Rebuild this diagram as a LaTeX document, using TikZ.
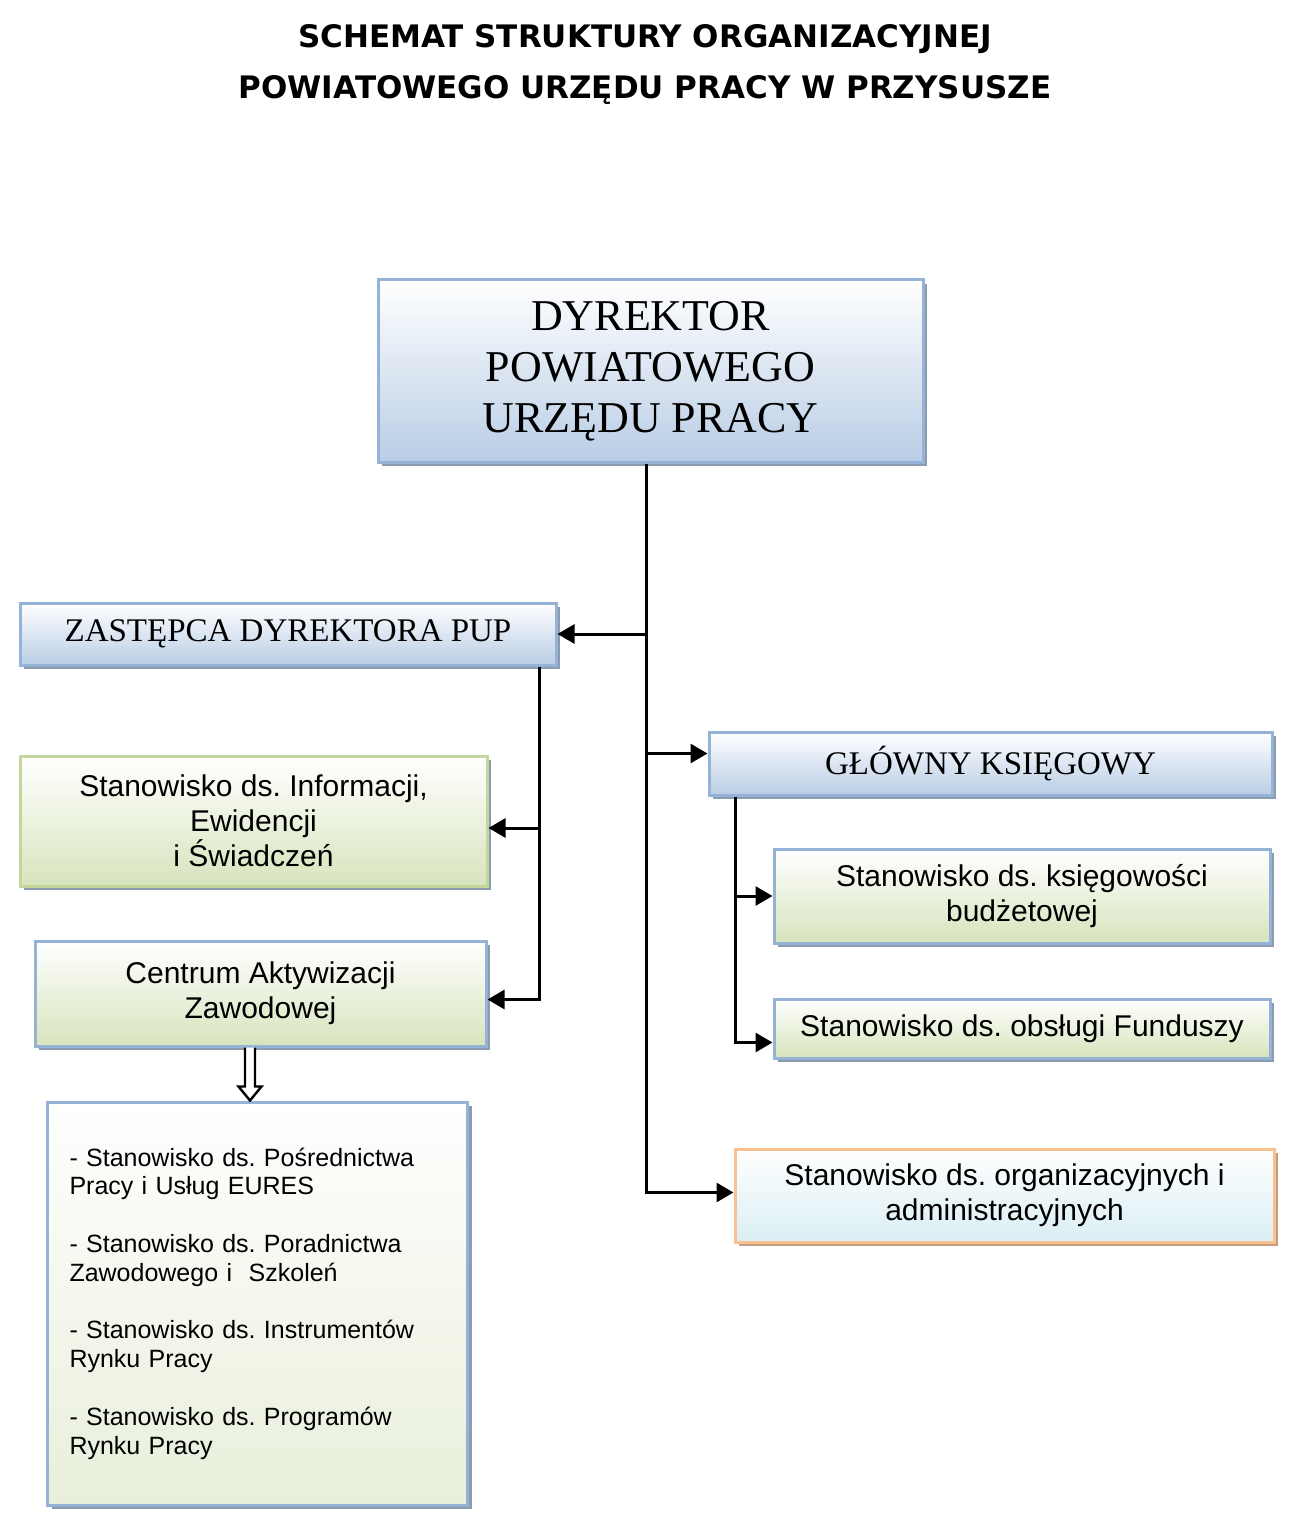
\documentclass[tikz,border=0pt]{standalone}
\usepackage{fontspec}
\setmainfont{Liberation Serif}
\setsansfont{Liberation Sans}
\newfontfamily\verd{DejaVu Sans}
\usetikzlibrary{arrows.meta,positioning,calc,shadows}
\definecolor{bluefill}{HTML}{B9CDE5}
\definecolor{blueline}{HTML}{95B3D7}
\definecolor{greenfill}{HTML}{D7E4BD}
\definecolor{greenline}{HTML}{C3D69B}
\definecolor{listfill}{HTML}{E8EFDA}
\definecolor{orgline}{HTML}{FAC090}
\definecolor{orgfill}{HTML}{DAEEF3}
\definecolor{shblue}{HTML}{8D9BAF}
\definecolor{shorg}{HTML}{C49C7E}
\frenchspacing
\tikzset{
  blk/.style={draw=blueline, line width=1.5pt, top color=white,
              bottom color=bluefill, align=center, inner sep=2pt,
              font=\sffamily\fontsize{15}{17.5}\selectfont,
              drop shadow={shadow xshift=2pt, shadow yshift=-2pt,
                           fill=shblue, opacity=1}},
  headb/.style={blk, font=\rmfamily\fontsize{16.5}{19}\selectfont},
  dirb/.style={blk, font=\rmfamily\fontsize{22}{25.5}\selectfont},
  greenb/.style={blk, draw=greenline, bottom color=greenfill},
  cazb/.style={blk, bottom color=greenfill},
  listb/.style={blk, bottom color=listfill, align=left,
                text width=188pt, inner xsep=11pt,
                font=\sffamily\fontsize{12.5}{14.4}\selectfont},
  orgb/.style={blk, draw=orgline, bottom color=orgfill,
               drop shadow={shadow xshift=2pt, shadow yshift=-2pt,
                            fill=shorg, opacity=1}},
  ln/.style={line width=1.5pt, draw=black},
  ar/.style={ln, -{Triangle[length=8.5pt,width=9.5pt]}},
  hol/.style={line width=1.2pt, draw=black, fill=white},
  ttl/.style={font=\verd\bfseries\fontsize{15.5}{25.5}\selectfont, align=center},
}
\begin{document}
\begin{tikzpicture}[x=0.5pt, y=-0.5pt]
\useasboundingbox (0,0) rectangle (1289,1519);

% ---- tytul ----
\node[ttl] (title) at (645,65) {SCHEMAT STRUKTURY ORGANIZACYJNEJ\\
  POWIATOWEGO URZĘDU PRACY W PRZYSUSZE};

% ---- dyrektor ----
\node[dirb, minimum width=272.5pt, minimum height=91pt] (dyr) at (650.5,371)
  {DYREKTOR\\ POWIATOWEGO\\ URZĘDU PRACY};

% ---- lewa strona ----
\node[headb, minimum width=268pt, minimum height=31pt] (zast) at (288,634)
  {ZASTĘPCA DYREKTORA PUP};
\node[greenb, minimum width=233.5pt, minimum height=65pt,
      below=44pt of zast.south west, anchor=north west] (info)
  {Stanowisko ds. Informacji,\\ Ewidencji\\ i Świadczeń};
\node[cazb, minimum width=225.5pt, minimum height=52.5pt] (caz) at (260.5,993.5)
  {Centrum Aktywizacji\\ Zawodowej};
\node[listb, minimum width=209.5pt, minimum height=201.5pt] (list) at (257.5,1303.5)
  {- Stanowisko ds. Pośrednictwa\\ Pracy i Usług EURES\\[14.4pt]
   - Stanowisko ds. Poradnictwa\\ Zawodowego i\ \ Szkoleń\\[14.4pt]
   - Stanowisko ds. Instrumentów\\ Rynku Pracy\\[14.4pt]
   - Stanowisko ds. Programów\\ Rynku Pracy};

% ---- prawa strona ----
\node[headb, minimum width=281.5pt, minimum height=31.5pt] (gk) at (990.5,763.5)
  {GŁÓWNY KSIĘGOWY};
\node[greenb, draw=blueline, minimum width=248pt, minimum height=47pt] (ksieg) at (1022,896)
  {Stanowisko ds. księgowości\\ budżetowej};
\node[greenb, draw=blueline, minimum width=248pt, minimum height=29.5pt,
      below=26.5pt of ksieg.south east, anchor=north east] (fund)
  {Stanowisko ds. obsługi Funduszy};
\node[orgb, minimum width=269.5pt, minimum height=46.5pt] (org) at (1004.5,1195.5)
  {Stanowisko ds. organizacyjnych i\\ administracyjnych};

% ---- polaczenia ----
\draw[ar] ([xshift=-2pt]dyr.south) |- ([yshift=1.5pt]org.west);
\draw[ar] ([xshift=-2pt]dyr.south |- zast.east) -- (zast.east);
\draw[ar] ([xshift=-2pt]dyr.south |- gk.west) ++(0,-10) -- ([yshift=5pt]gk.west);

\draw[ar] ([xshift=-9pt]zast.south east) |- ([yshift=-3.5pt]info.east);
\draw[ar] ([xshift=-9pt]zast.south east) |- ([yshift=-3pt]caz.east);

\draw[ar] ([xshift=14pt]gk.south west) |- (ksieg.west);
\draw[ar] ([xshift=14pt]gk.south west) |- ([yshift=-7pt]fund.west);

% strzalka pusta CAZ -> lista
\coordinate (hs) at ([xshift=-5.25pt]caz.south);
\coordinate (he) at (hs |- list.north);
\draw[hol] ($(hs)+(-5,0)$) -- ($(he)+(-5,-14)$) -- ($(he)+(-11.5,-14)$)
  -- (he) -- ($(he)+(11.5,-14)$) -- ($(he)+(5,-14)$) -- ($(hs)+(5,0)$);

\end{tikzpicture}
\end{document}
